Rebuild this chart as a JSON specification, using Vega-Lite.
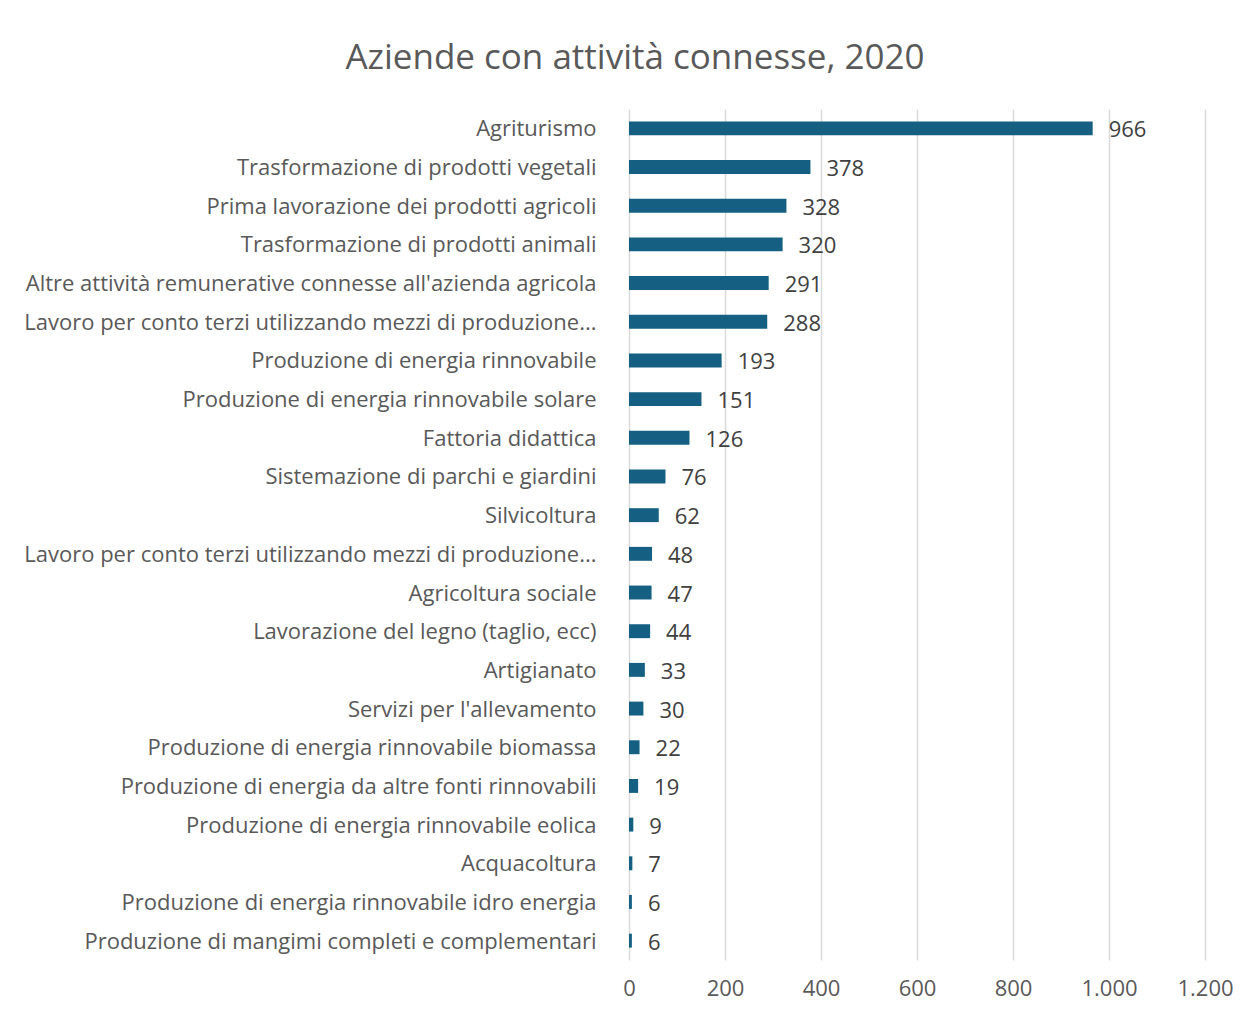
{
  "$schema": "https://vega.github.io/schema/vega-lite/v6.json",
  "width": 576,
  "height": 851,
  "autosize": {"type": "none"},
  "padding": {"left": 629, "top": 109, "right": 45, "bottom": 52},
  "background": "white",
  "config": {"font": "Open Sans", "view": {"stroke": null}},
  "title": {
    "text": "Aziende con attività connesse, 2020",
    "fontSize": 35,
    "font": "Open Sans",
    "fontWeight": "normal",
    "color": "#595959",
    "anchor": "middle",
    "dx": -282,
    "offset": 33
  },
  "data": {
    "values": [
      {"attivita": "Agriturismo", "aziende": 966},
      {"attivita": "Trasformazione di prodotti vegetali", "aziende": 378},
      {"attivita": "Prima lavorazione dei prodotti agricoli", "aziende": 328},
      {"attivita": "Trasformazione di prodotti animali", "aziende": 320},
      {"attivita": "Altre attività remunerative connesse all'azienda agricola", "aziende": 291},
      {"attivita": "Lavoro per conto terzi utilizzando mezzi di produzione...", "aziende": 288},
      {"attivita": "Produzione di energia rinnovabile", "aziende": 193},
      {"attivita": "Produzione di energia rinnovabile solare", "aziende": 151},
      {"attivita": "Fattoria didattica", "aziende": 126},
      {"attivita": "Sistemazione di parchi e giardini", "aziende": 76},
      {"attivita": "Silvicoltura", "aziende": 62},
      {"attivita": "Lavoro per conto terzi utilizzando mezzi di produzione...\u200b", "aziende": 48},
      {"attivita": "Agricoltura sociale", "aziende": 47},
      {"attivita": "Lavorazione del legno (taglio, ecc)", "aziende": 44},
      {"attivita": "Artigianato", "aziende": 33},
      {"attivita": "Servizi per l'allevamento", "aziende": 30},
      {"attivita": "Produzione di energia rinnovabile biomassa", "aziende": 22},
      {"attivita": "Produzione di energia da altre fonti rinnovabili", "aziende": 19},
      {"attivita": "Produzione di energia rinnovabile eolica", "aziende": 9},
      {"attivita": "Acquacoltura", "aziende": 7},
      {"attivita": "Produzione di energia rinnovabile idro energia", "aziende": 6},
      {"attivita": "Produzione di mangimi completi e complementari", "aziende": 6}
    ]
  },
  "encoding": {
    "y": {
      "field": "attivita",
      "type": "nominal",
      "sort": null,
      "title": null,
      "scale": {"paddingInner": 0.64, "paddingOuter": 0.32},
      "axis": {
        "domain": false,
        "ticks": false,
        "grid": false,
        "labelFontSize": 22,
        "labelColor": "#595959",
        "labelPadding": 33,
        "labelOffset": 1,
        "labelLimit": 1000
      }
    }
  },
  "layer": [
    {
      "mark": {"type": "bar", "color": "#156082"},
      "encoding": {
        "x": {
          "field": "aziende",
          "type": "quantitative",
          "title": null,
          "scale": {"domain": [0, 1200], "nice": false},
          "axis": {
            "values": [0, 200, 400, 600, 800, 1000, 1200],
            "labelExpr": "replace(format(datum.value, ','), ',', '.')",
            "grid": true,
            "gridColor": "#d9d9d9",
            "gridWidth": 1.5,
            "domain": false,
            "ticks": false,
            "labelFlush": false,
            "labelFontSize": 22,
            "labelColor": "#595959",
            "labelPadding": 18
          }
        }
      }
    },
    {
      "mark": {"type": "text", "align": "left", "baseline": "middle", "dx": 16, "dy": 2, "fontSize": 22, "color": "#404040"},
      "encoding": {
        "x": {"field": "aziende", "type": "quantitative"},
        "text": {"field": "aziende", "type": "quantitative"}
      }
    }
  ]
}
